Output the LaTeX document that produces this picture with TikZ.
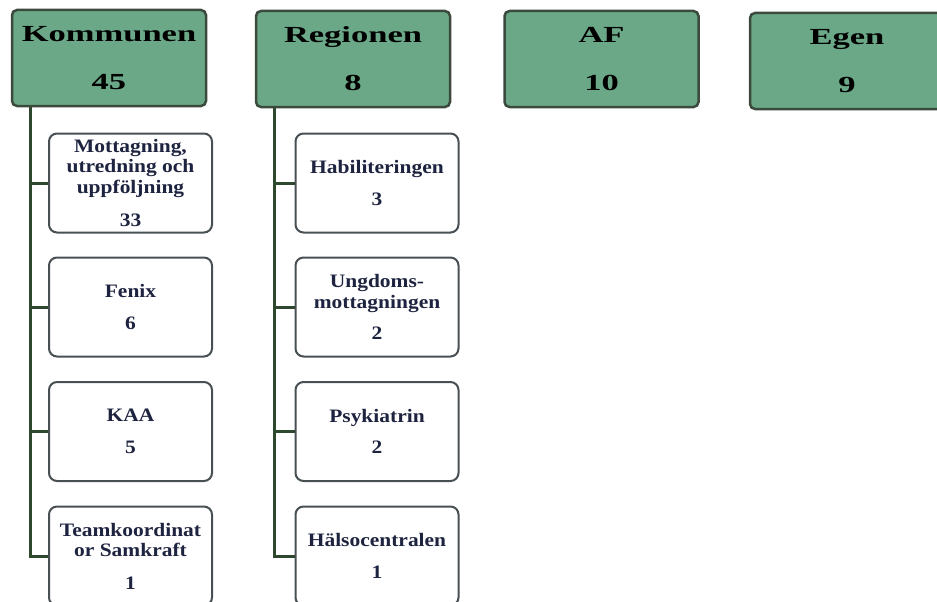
\documentclass[tikz,border=0pt]{standalone}
\usepackage{fontspec}
\setmainfont{Liberation Serif}
\newfontfamily\headfont[FakeStretch=1.5]{Liberation Serif}
\newfontfamily\unitfont[FakeStretch=1.13]{Liberation Serif}

\newlength{\du}
\setlength{\du}{1pt}

\definecolor{headgreen}{RGB}{106,168,136}
\definecolor{headedge}{RGB}{60,74,62}
\definecolor{unitedge}{RGB}{72,80,84}
\definecolor{treeline}{RGB}{46,72,46}
\definecolor{unittext}{RGB}{30,36,64}

\tikzset{
  headbox/.style={draw=headedge, fill=headgreen, line width=2.5\du, rounded corners=5\du,
    minimum width=194\du, minimum height=96\du, inner sep=0pt, align=center,
    font=\headfont\bfseries\fontsize{23}{25}\selectfont},
  unitbox/.style={draw=unitedge, fill=white, line width=2\du, rounded corners=8\du,
    minimum width=163\du, minimum height=99\du, inner sep=0pt, align=center,
    text=unittext, font=\unitfont\bfseries\fontsize{19}{20.5}\selectfont},
  treeedge/.style={draw=treeline, line width=3\du}
}

\begin{document}
\begin{tikzpicture}
\pgftransformxscale{1.000000}
\pgftransformyscale{-1.000000}
\useasboundingbox (0\du,0\du) rectangle (937\du,602\du);
% top row
\node[headbox] (kommunen) at (109\du,58\du){Kommunen\\[23\du]45};
\node[headbox] (regionen) at (353\du,59\du){Regionen\\[23\du]8};
\node[headbox] (af) at (601.5\du,59\du){AF\\[23\du]10};
\node[headbox] (egen) at (847\du,61\du){Egen\\[23\du]9};
% kommunen units
\node[unitbox] (mottagning) at (130.5\du,183\du){Mottagning,\\utredning och\\uppföljning\\[13\du]33};
\node[unitbox] (fenix) at (130.5\du,307\du){Fenix\\[11\du]6};
\node[unitbox] (kaa) at (130.5\du,431.5\du){KAA\\[11\du]5};
\node[unitbox] (samkraft) at (130.5\du,556\du){Teamkoordinat\\or Samkraft\\[12\du]1};
% regionen units
\node[unitbox] (habilitering) at (377\du,183\du){Habiliteringen\\[11\du]3};
\node[unitbox] (ungdom) at (377\du,307\du){Ungdoms-\\mottagningen\\[11\du]2};
\node[unitbox] (psykiatri) at (377\du,431.5\du){Psykiatrin\\[11\du]2};
\node[unitbox] (halsocentral) at (377\du,556\du){Hälsocentralen\\[11\du]1};
% tree lines
\coordinate (kstem) at ([xshift=20\du]kommunen.south west);
\coordinate (rstem) at ([xshift=20\du]regionen.south west);
\draw[treeedge] (kstem) |- (mottagning.west);
\draw[treeedge] (kstem) |- (fenix.west);
\draw[treeedge] (kstem) |- (kaa.west);
\draw[treeedge] (kstem) |- (samkraft.west);
\draw[treeedge] (rstem) |- (habilitering.west);
\draw[treeedge] (rstem) |- (ungdom.west);
\draw[treeedge] (rstem) |- (psykiatri.west);
\draw[treeedge] (rstem) |- (halsocentral.west);
\end{tikzpicture}
\end{document}
